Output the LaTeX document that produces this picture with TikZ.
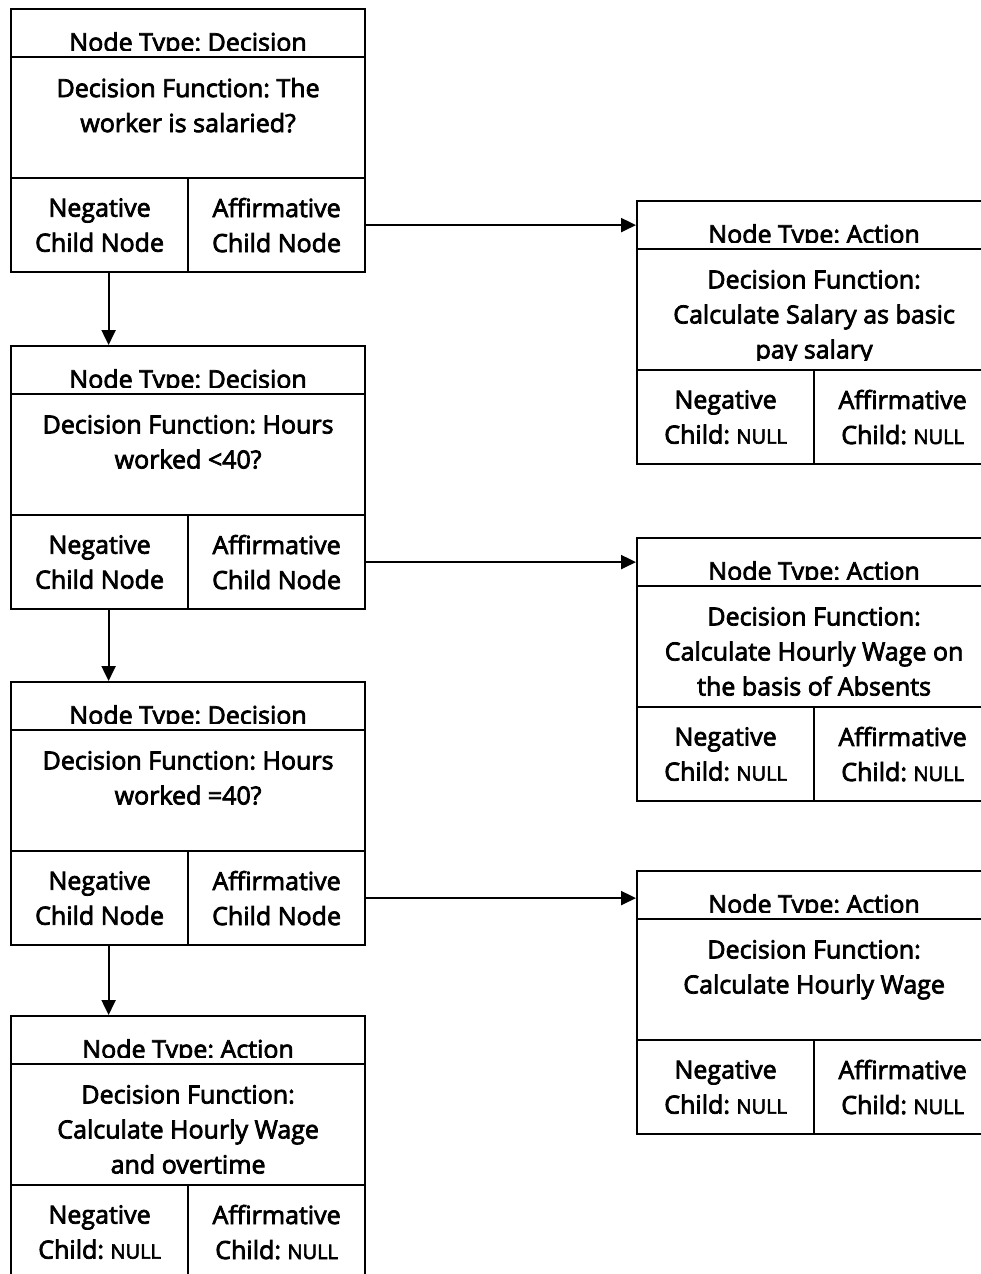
\documentclass[tikz,border=0pt]{standalone}
\usepackage{fontspec}
\setmainfont{Open Sans}[RawFeature={embolden=3}]
\usetikzlibrary{arrows.meta}
\frenchspacing
\newcommand\nul{{\fontsize{20}{20}\selectfont NULL}}
\newcommand\tbox[7]{%
  % #1 name, #2 x, #3 y, #4 header, #5 body, #6 negative, #7 affirmative
  \node[cell, minimum width=354pt, minimum height=48pt] (#1h) at (#2,#3) {};
  \node[cell, minimum width=354pt, minimum height=121pt] (#1b) at (#2,#3+48) {};
  \node[cell, minimum width=177pt, minimum height=94pt] (#1n) at (#2,#3+169) {};
  \node[cell, minimum width=177pt, minimum height=94pt] (#1a) at (#2+177,#3+169) {};
  \begin{scope}
    \clip (#2,#3) rectangle (#2+354,#3+42);
    \node[txt, anchor=base] (#1ht) at ([yshift=7pt]#1h.south) {#4};
  \end{scope}
  \begin{scope}
    \clip (#2,#3+48) rectangle (#2+354,#3+160);
    \node[txt, anchor=north] (#1bt) at ([yshift=-21pt]#1b.north) {#5};
  \end{scope}
  \node[txt] (#1nt) at (#1n.center) {#6};
  \node[txt] (#1at) at (#1a.center) {#7};
}
\begin{document}
\begin{tikzpicture}[x=1pt, y=-1pt, line width=2.2pt,
  cell/.style={draw, rectangle, inner sep=0pt, anchor=north west},
  txt/.style={font=\fontsize{25}{35}\selectfont, align=center, inner sep=0pt},
  arr/.style={-{Triangle[length=15pt, width=14pt]}}]
\useasboundingbox (0,0) rectangle (981,1274);
\clip (0,0) rectangle (981,1274);

\tbox{d1}{10}{8}{Node Type: Decision}{Decision Function: The\\worker is salaried?}{Negative\\Child Node}{Affirmative\\Child Node}
\tbox{d2}{10}{345}{Node Type: Decision}{Decision Function: Hours\\worked <40?}{Negative\\Child Node}{Affirmative\\Child Node}
\tbox{d3}{10}{681}{Node Type: Decision}{Decision Function: Hours\\worked =40?}{Negative\\Child Node}{Affirmative\\Child Node}
\tbox{a4}{10}{1015}{Node Type: Action}{Decision Function:\\Calculate Hourly Wage\\and overtime}{Negative\\Child: \nul}{Affirmative\\Child: \nul}

\tbox{r1}{636}{200}{Node Type: Action}{Decision Function:\\Calculate Salary as basic\\pay salary}{Negative\\Child: \nul}{Affirmative\\Child: \nul}
\tbox{r2}{636}{537}{Node Type: Action}{Decision Function:\\Calculate Hourly Wage on\\the basis of Absents}{Negative\\Child: \nul}{Affirmative\\Child: \nul}
\tbox{r3}{636}{870}{Node Type: Action}{Decision Function:\\Calculate Hourly Wage}{Negative\\Child: \nul}{Affirmative\\Child: \nul}

\draw[arr] (d1a.east) -- (d1a.east -| r1h.west);
\draw[arr] (d2a.east) -- (d2a.east -| r2h.west);
\draw[arr] (d3a.east) -- (d3a.east -| r3h.west);

\draw[arr] ([xshift=9pt]d1n.south) -- ([xshift=9pt]d1n.south |- d2h.north);
\draw[arr] ([xshift=9pt]d2n.south) -- ([xshift=9pt]d2n.south |- d3h.north);
\draw[arr] ([xshift=9pt]d3n.south) -- ([xshift=9pt]d3n.south |- a4h.north);
\end{tikzpicture}
\end{document}
